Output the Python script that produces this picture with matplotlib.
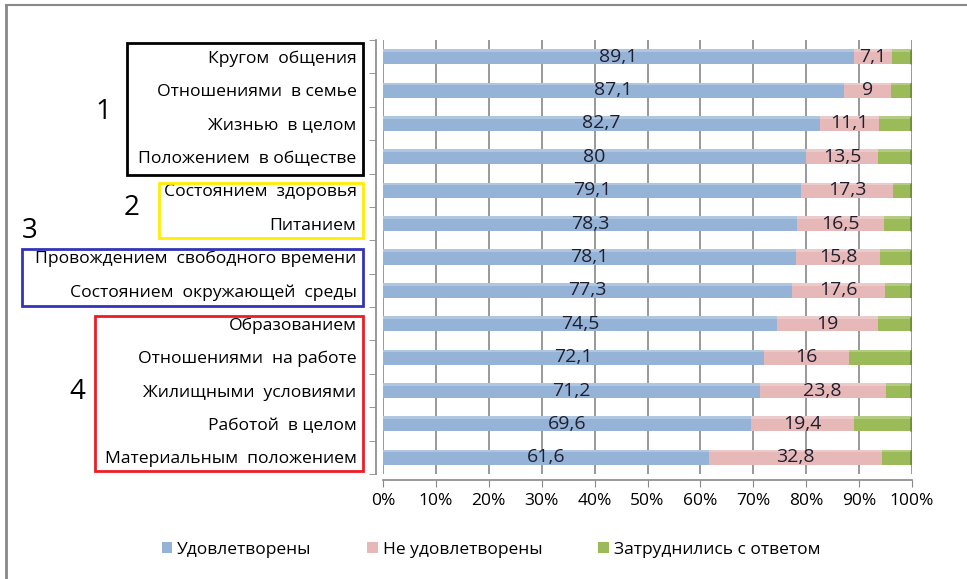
import numpy as np
import matplotlib
matplotlib.use('Agg')
import matplotlib.pyplot as plt
from matplotlib.patches import Rectangle, Polygon

plt.rcParams['font.family'] = ['Open Sans', 'DejaVu Sans']

categories = [
    "Кругом  общения", "Отношениями  в семье", "Жизнью  в целом", "Положением  в обществе",
    "Состоянием  здоровья", "Питанием",
    "Провождением  свободного времени", "Состоянием  окружающей  среды",
    "Образованием", "Отношениями  на работе", "Жилищными  условиями",
    "Работой  в целом", "Материальным  положением",
]
satisfied = [89.1, 87.1, 82.7, 80, 79.1, 78.3, 78.1, 77.3, 74.5, 72.1, 71.2, 69.6, 61.6]
unsatisfied = [7.1, 9, 11.1, 13.5, 17.3, 16.5, 15.8, 17.6, 19, 16, 23.8, 19.4, 32.8]
undecided = [3.8, 3.9, 6.2, 6.5, 3.6, 5.2, 6.1, 5.1, 6.5, 11.9, 5.0, 11.0, 5.6]
series_names = ["Удовлетворены", "Не удовлетворены", "Затруднились с ответом"]
colors = ["#95b3d7", "#e6b9b8", "#9bbb59"]
dark = ["#7a9cc6", "#cf9d9c", "#6f8a3a"]

# group boxes (pixel coords: left, top, right, bottom), labels
groups = [
    ("1", (127, 43, 363, 175), "#000000", (103, 112)),
    ("2", (159, 183, 363, 238), "#ffee00", (132, 208)),
    ("3", (22, 249, 363, 306), "#3333bb", (30, 231)),
    ("4", (95, 316, 363, 471), "#ee1c24", (77, 392)),
]

W, H = 967, 579
fig = plt.figure(figsize=(W / 100, H / 100), dpi=100)
ax = fig.add_axes([383 / W, 1 - 474 / H, (912 - 383) / W, (474 - 40) / H])

y = np.arange(len(categories))
h = 0.45
left = np.zeros(len(categories))
for vals, c, d, name in zip([satisfied, unsatisfied, undecided], colors, dark, series_names):
    vals = np.array(vals, dtype=float)
    ax.barh(y, vals, left=left, height=h, color=c, edgecolor='none', label=name, zorder=3)
    # lighter top face for a bit of 3D look
    ax.barh(y - h / 2 + 0.04, vals, left=left, height=0.08, color='white', alpha=0.25,
            edgecolor='none', zorder=4)
    left = left + vals

# darker end cap on the right
for yi, l in zip(y, left):
    ax.add_patch(Polygon([(l - 0.2, yi - h / 2 + 0.05), (l + 0.4, yi - h / 2 - 0.05),
                          (l + 0.4, yi + h / 2 - 0.1), (l - 0.2, yi + h / 2)],
                         closed=True, color=dark[2], zorder=5))

# data labels for first two series
for i in range(len(categories)):
    ax.text(satisfied[i] / 2, y[i], f"{satisfied[i]:g}".replace('.', ','),
            ha='center', va='center', fontsize=14, color='#1f1f2f', zorder=6)
    ax.text(satisfied[i] + unsatisfied[i] / 2, y[i], f"{unsatisfied[i]:g}".replace('.', ','),
            ha='center', va='center', fontsize=14, color='#1f1f2f', zorder=6)

ax.set_xlim(0, 100)
ax.set_ylim(len(categories) - 0.5, -0.5)
ax.set_xticks(np.arange(0, 101, 10))
ax.set_xticklabels([f"{v}%" for v in range(0, 101, 10)])
ax.set_yticks(y)
ax.set_yticklabels(categories)
ax.set_yticks(np.arange(-0.5, len(categories), 1), minor=True)
ax.tick_params(axis='y', which='major', length=0, pad=14, labelsize=12.6)
ax.tick_params(axis='y', which='minor', length=5, color='#888888')
ax.tick_params(axis='x', length=5, color='#888888', pad=5, labelsize=12.5)
ax.grid(axis='x', color='#888888', linewidth=1.2, zorder=0)
for s in ['top', 'right']:
    ax.spines[s].set_visible(False)
ax.spines['left'].set_color('#888888')
ax.spines['bottom'].set_color('#888888')
ax.spines['left'].set_position(('outward', 5))
ax.spines['bottom'].set_position(('outward', 4))
ax.spines['left'].set_linewidth(1.2)
ax.spines['bottom'].set_linewidth(1.2)

# outer chart frame (left and top edges)
fig.add_artist(plt.Line2D([6 / W, 6 / W], [0, 1 - 5 / H], color='#888888', linewidth=2))
fig.add_artist(plt.Line2D([6 / W, 1], [1 - 5 / H, 1 - 5 / H], color='#888888', linewidth=1.5))

for label, (x0, y0, x1, y1), col, (tx, ty) in groups:
    fig.add_artist(Rectangle((x0 / W, 1 - y1 / H), (x1 - x0) / W, (y1 - y0) / H,
                             fill=False, edgecolor=col, linewidth=2, transform=fig.transFigure))
    fig.text(tx / W, 1 - ty / H, label, fontsize=20, ha='center', va='center')

fig.legend(loc='center', bbox_to_anchor=(491 / W, 1 - 550 / H), ncol=3, frameon=False,
           fontsize=12.5, handlelength=0.6, handleheight=0.6, handletextpad=0.3,
           columnspacing=3.2)

fig.savefig('out.png', dpi=100)
